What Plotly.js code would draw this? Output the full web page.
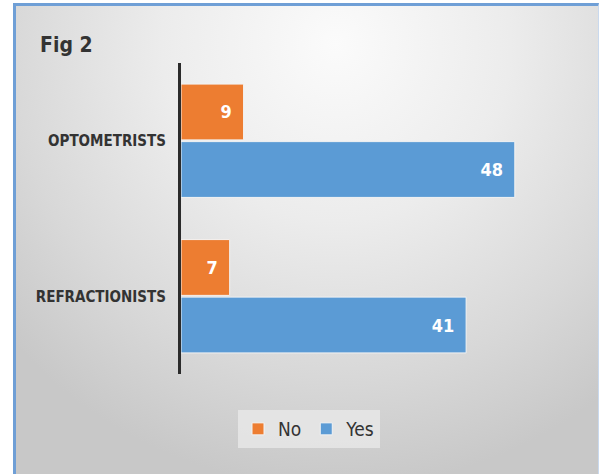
<!DOCTYPE html>
<html>
<head>
<meta charset="utf-8">
<script src="https://cdn.plot.ly/plotly-3.0.1.min.js"></script>
<style>
  html, body { margin: 0; padding: 0; background: #ffffff; }
  #bg {
    position: absolute; left: 13px; top: 3px; width: 586px; height: 471px;
    border-left: 3px solid #6f9fd6; border-top: 3px solid #6f9fd6; border-right: 1px solid #c9d9ee;
    box-sizing: border-box;
    background: radial-gradient(ellipse 75% 95% at 55% 8%, #fbfbfb 0%, #ececec 40%, #d8d8d8 75%, #c8c8c8 100%);
  }
  #chart { position: absolute; left: 0; top: 0; width: 600px; height: 474px; }
</style>
</head>
<body>
<div id="bg"></div>
<div id="chart"></div>
<script>
const categories = ["OPTOMETRISTS", "REFRACTIONISTS"];
const noValues = [9, 7];
const yesValues = [48, 41];
const seriesNames = ["No", "Yes"];
const titleText = "Fig 2";

const FONT = "'DejaVu Sans Condensed', 'Liberation Sans', sans-serif";
const pad = v => v + "\u00a0\u2009";

const traces = [
  {
    type: "bar", orientation: "h", name: seriesNames[0],
    y: categories, x: noValues,
    text: noValues.map(pad), textposition: "inside", insidetextanchor: "end",
    textfont: {family: FONT, size: 18, color: "#ffffff", weight: "bold"},
    marker: {color: "#ed7d31", line: {color: "#f3f3f3", width: 1}},
    hoverinfo: "none", cliponaxis: false
  },
  {
    type: "bar", orientation: "h", name: seriesNames[1],
    y: categories, x: yesValues,
    text: yesValues.map(pad), textposition: "inside", insidetextanchor: "end",
    textfont: {family: FONT, size: 18, color: "#ffffff", weight: "bold"},
    marker: {color: "#5b9bd5", line: {color: "#f3f3f3", width: 1}},
    hoverinfo: "none", cliponaxis: false
  }
];

const layout = {
  width: 600, height: 474,
  paper_bgcolor: "rgba(0,0,0,0)", plot_bgcolor: "rgba(0,0,0,0)",
  margin: {l: 181, r: 40, t: 63, b: 100, pad: 0},
  barmode: "group", bargap: 0.26, bargroupgap: 0.03,
  font: {family: FONT, color: "#333333"},
  title: {
    text: "<b>" + titleText + "</b>",
    font: {family: FONT, size: 21, color: "#333333"},
    xref: "container", yref: "container",
    x: 40 / 600, xanchor: "left",
    y: 1 - 45 / 474, yanchor: "middle"
  },
  xaxis: {
    range: [0, 54.5], showgrid: false, zeroline: false, showline: false,
    showticklabels: false, ticks: "", fixedrange: true
  },
  yaxis: {
    type: "category", autorange: "reversed",
    showgrid: false, zeroline: false,
    showline: true, linecolor: "#2b2b2b", linewidth: 3,
    ticks: "", ticklabelstandoff: 9,
    tickfont: {family: FONT, size: 15, color: "#333333", weight: "bold"},
    fixedrange: true
  },
  showlegend: true,
  legend: {
    orientation: "h",
    xref: "container", yref: "container",
    x: 309 / 600, xanchor: "center",
    y: 1 - 429 / 474, yanchor: "middle",
    bgcolor: "rgba(232,232,232,0.8)",
    font: {family: FONT, size: 19, color: "#333333"},
    traceorder: "normal", itemwidth: 30,
    tracegroupgap: 0
  }
};

Plotly.newPlot("chart", traces, layout, {staticPlot: true, displayModeBar: false});
</script>
</body>
</html>
